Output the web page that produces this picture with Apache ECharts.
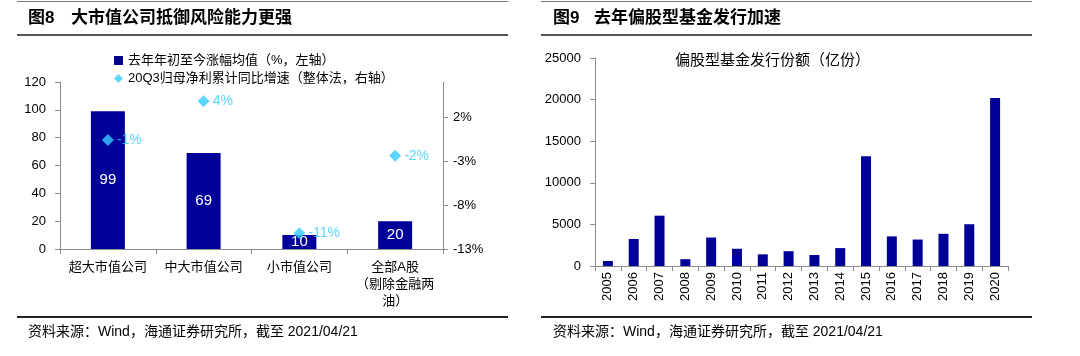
<!DOCTYPE html>
<html><head><meta charset="utf-8">
<script src="https://cdn.jsdelivr.net/npm/echarts@6/dist/echarts.min.js"></script>
<style>html,body{margin:0;padding:0;background:#fff}#c{width:1080px;height:356px}</style>
</head><body><div id="c"></div>
<script>
const leftCategories = ['超大市值公司', '中大市值公司', '小市值公司', '全部A股\n（剔除金融两\n油）'];
const leftBarValues = [99, 69, 10, 20];
const leftGrowthValues = [-0.6, 3.8, -11.2, -2.4];
const leftBarName = '去年年初至今涨幅均值（%，左轴）';
const leftScatterName = '20Q3归母净利累计同比增速（整体法，右轴）';
const rightYears = ['2005','2006','2007','2008','2009','2010','2011','2012','2013','2014','2015','2016','2017','2018','2019','2020'];
const rightValues = [600, 3250, 6050, 820, 3420, 2070, 1400, 1780, 1320, 2150, 13200, 3560, 3180, 3870, 5020, 20200];
const leftFigNo = '图8';
const leftTitle = '大市值公司抵御风险能力更强';
const rightFigNo = '图9';
const rightTitle = '去年偏股型基金发行加速';
const rightChartTitle = '偏股型基金发行份额（亿份）';
const sourceText = '资料来源：Wind，海通证券研究所，截至 2021/04/21';

const FF = '"Liberation Sans", "Noto Sans CJK SC", sans-serif';
const BLUE = '#000099';
const CYAN = '#33CCFF';
const AX = '#8c8c8c';

const chart = echarts.init(document.getElementById('c'), null, {renderer: 'canvas'});

function hline(x1, x2, y, w, color) {
  return {type: 'line', shape: {x1: x1, y1: y, x2: x2, y2: y}, style: {stroke: color, lineWidth: w}, silent: true};
}
function txt(x, y, s, size, weight) {
  return {type: 'text', x: x, y: y, style: {text: s, font: (weight || 'normal') + ' ' + size + 'px ' + FF, fill: '#000', verticalAlign: 'middle'}, silent: true};
}

chart.setOption({
  animation: false,
  textStyle: {fontFamily: FF},
  graphic: [
    hline(17, 508, 1.5, 1, '#777'),
    hline(17, 508, 35, 2, '#555'),
    hline(17, 508, 317, 2, '#222'),
    hline(541, 1032, 1.5, 1, '#777'),
    hline(541, 1032, 35, 2, '#555'),
    hline(541, 1032, 317, 2, '#222'),
    txt(28, 18, leftFigNo, 17, 'bold'),
    txt(71, 18, leftTitle, 17, 'bold'),
    txt(553, 18, rightFigNo, 17, 'bold'),
    txt(594, 18, rightTitle, 17, 'bold'),
    txt(28, 332, sourceText, 14),
    txt(553, 332, sourceText, 14),
    txt(675, 61, rightChartTitle, 15)
  ],
  legend: {
    orient: 'vertical', left: 109, top: 49, itemWidth: 9, itemHeight: 9, itemGap: 5,
    textStyle: {fontSize: 13, color: '#000', fontFamily: FF},
    data: [{name: leftBarName, icon: 'rect'}, {name: leftScatterName, icon: 'diamond'}]
  },
  grid: [
    {left: 60, right: 637, top: 82, bottom: 107},
    {left: 595, right: 72, top: 58, bottom: 90}
  ],
  xAxis: [
    {type: 'category', gridIndex: 0, data: leftCategories,
     axisLine: {lineStyle: {color: AX}}, axisTick: {show: true, length: 5, lineStyle: {color: AX}},
     axisLabel: {fontSize: 13, color: '#000', lineHeight: 17, margin: 10, interval: 0, fontFamily: FF}},
    {type: 'category', gridIndex: 1, data: rightYears,
     axisLine: {lineStyle: {color: AX}}, axisTick: {show: true, length: 5, lineStyle: {color: AX}},
     axisLabel: {fontSize: 13, color: '#000', rotate: 90, margin: 6, interval: 0, fontFamily: FF}}
  ],
  yAxis: [
    {type: 'value', gridIndex: 0, min: 0, max: 120, interval: 20,
     axisLine: {show: true, lineStyle: {color: AX}}, axisTick: {show: true, length: 5, lineStyle: {color: AX}},
     splitLine: {show: false}, axisLabel: {fontSize: 13, color: '#000', margin: 14, fontFamily: FF}},
    {type: 'value', gridIndex: 0, position: 'right', min: -13, max: 6, interval: 5,
     axisLine: {show: true, lineStyle: {color: AX}}, axisTick: {show: true, length: 5, lineStyle: {color: AX}},
     splitLine: {show: false},
     axisLabel: {fontSize: 13, color: '#000', margin: 10, showMaxLabel: false, fontFamily: FF,
       formatter: function (v) { return v === 6 ? '' : v + '%'; }}},
    {type: 'value', gridIndex: 1, min: 0, max: 25000, interval: 5000,
     axisLine: {show: true, lineStyle: {color: AX}}, axisTick: {show: true, length: 5, lineStyle: {color: AX}},
     splitLine: {show: false},
     axisLabel: {fontSize: 13, color: '#000', margin: 14, fontFamily: FF,
       formatter: function (v) { return String(v); }}}
  ],
  series: [
    {name: leftBarName, type: 'bar', xAxisIndex: 0, yAxisIndex: 0, data: leftBarValues, barWidth: 34,
     itemStyle: {color: BLUE},
     label: {show: true, position: 'inside', color: '#fff', fontSize: 15, fontFamily: FF}},
    {name: leftScatterName, type: 'scatter', xAxisIndex: 0, yAxisIndex: 1, data: leftGrowthValues,
     symbol: 'diamond', symbolSize: 12, itemStyle: {color: CYAN}, z: 5,
     label: {show: true, position: 'right', distance: 3, color: CYAN, fontSize: 14, fontFamily: FF,
       formatter: function (p) { return Math.round(p.value) + '%'; }}},
    {name: 'fund', type: 'bar', xAxisIndex: 1, yAxisIndex: 2, data: rightValues, barWidth: 10,
     itemStyle: {color: BLUE}}
  ]
});
</script>
</body></html>
